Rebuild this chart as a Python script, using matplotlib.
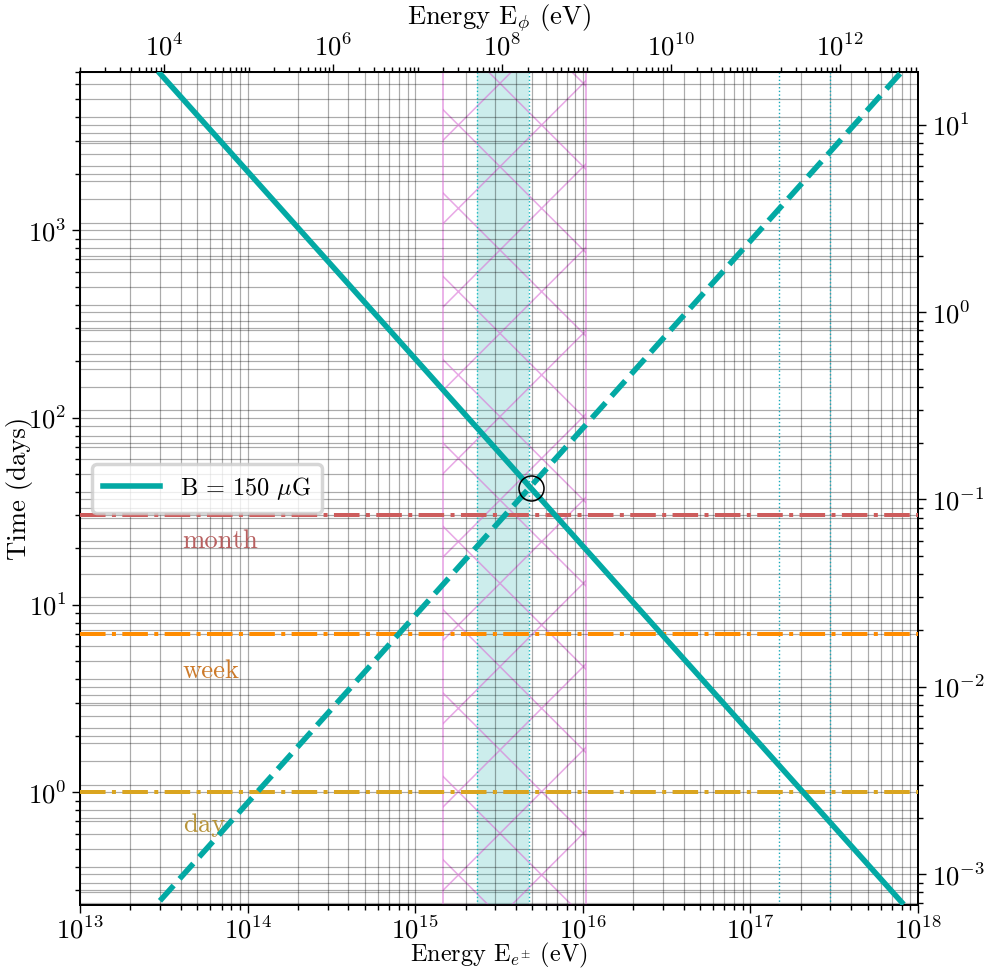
import numpy as np
import matplotlib
matplotlib.use("Agg")
import matplotlib.pyplot as plt
from matplotlib.ticker import LogLocator, NullFormatter

plt.rcParams['font.family'] = 'serif'
plt.rcParams['font.serif'] = ['cmr10']
plt.rcParams['mathtext.fontset'] = 'cm'
plt.rcParams['axes.unicode_minus'] = False
plt.rcParams['axes.formatter.use_mathtext'] = True
plt.rcParams['hatch.linewidth'] = 0.45

# electron energies (eV) and the two time scales (days)
energy = [3e13, 1e14, 1e15, 1e16, 1e17, 8e17]
t_cool = [6870, 2060, 206, 20.6, 2.06, 0.258]      # solid, B = 150 muG
t_acc = [0.263, 0.877, 8.77, 87.7, 877, 7020]      # dashed

cross_E, cross_t = 4.9e15, 42.0

# reference times (days)
ref_names = ['month', 'week', 'day']
ref_times = [30, 7, 1]
ref_colors = ['#cd5c5c', '#ff8c00', '#daa520']
txt_colors = ['#b86060', '#cc7a2a', '#b8943a']
txt_times = [22, 4.4, 0.67]
txt_E = 4.1e13

band_cyan = (2.34e15, 4.78e15)
band_hatch = (1.47e15, 1.04e16)
dotted_E = [1.48e17, 2.98e17]

top_ticks = [1e4, 1e6, 1e8, 1e10, 1e12]

teal = '#03a9a4'
fs = 7.7

fig = plt.figure(figsize=(985/250, 972/250), dpi=250)
ax = fig.add_axes([0.0812, 0.069, 0.932-0.0812, 0.926-0.069])
ax2 = ax.twinx()
ax3 = ax.twiny()

ax.set_xscale('log')
ax.set_yscale('log')
ax.set_xlim(1e13, 1e18)
ax.set_ylim(0.25, 7000)

ax.plot(energy, t_cool, color=teal, lw=1.6, label=r'B = 150 $\mu$G', zorder=5)
ax.plot(energy, t_acc, color=teal, lw=1.6, ls='--', zorder=5)
ax.plot([cross_E], [cross_t], 'o', ms=7.2, mfc='none', mec='k', mew=0.45, zorder=6)

for name, t, c, tc, ty in zip(ref_names, ref_times, ref_colors, txt_colors, txt_times):
    ax.axhline(t, color=c, ls='-.', lw=1.15, zorder=4)
    ax.text(txt_E, ty, name, color=tc, fontsize=fs, ha='left', va='center')

ax.axvspan(*band_cyan, color=teal, alpha=0.2, lw=0, zorder=1)
for e in band_cyan:
    ax.axvline(e, color='#14b8c0', ls=':', lw=0.4, zorder=2)
ax.axvspan(*band_hatch, facecolor='none', edgecolor='orchid', hatch='x',
           alpha=0.6, lw=0.5, zorder=1)
for e in dotted_E:
    ax.axvline(e, color='#14a8b8', ls=':', lw=0.4, zorder=2)

gkw = dict(color='k', alpha=0.33, lw=0.35)
ax.grid(True, which='both', **gkw)
ax.set_xlabel(r'Energy E$_{e^{\pm}}$ (eV)', fontsize=7.0, labelpad=-0.8)
ax.set_ylabel('Time (days)', fontsize=fs, labelpad=-1.5)
ax.legend(loc='center left', fontsize=7.0, handlelength=2.35, borderpad=0.45)

# right axis: years
ax2.set_yscale('log')
ax2.set_ylim(0.25/365.25, 7000/365.25)
ax2.grid(True, which='both', **gkw)

# top axis: photon energy
ax3.set_xscale('log')
ax3.set_xlim(1.0e3, 8.4e12)
ax3.set_xticks(top_ticks)
ax3.xaxis.set_minor_locator(LogLocator(base=10, subs=np.arange(1, 10), numticks=40))
ax3.xaxis.set_minor_formatter(NullFormatter())
ax3.set_xlabel(r'Energy E$_{\phi}$ (eV)', fontsize=fs, labelpad=2.4)

ax.set_zorder(3)
ax.patch.set_visible(False)
ax2.set_zorder(1)
ax3.set_zorder(2)

for a in (ax, ax2, ax3):
    a.tick_params(which='both', labelsize=fs, width=0.4)
    a.tick_params(which='major', length=2.4, pad=1.5)
    a.tick_params(which='minor', length=1.4)
    for s in a.spines.values():
        s.set_linewidth(0.5)
ax3.tick_params(which='major', pad=1.0)
ax.tick_params(axis='x', which='major', pad=1.0)

fig.savefig('out.png', dpi=250)
